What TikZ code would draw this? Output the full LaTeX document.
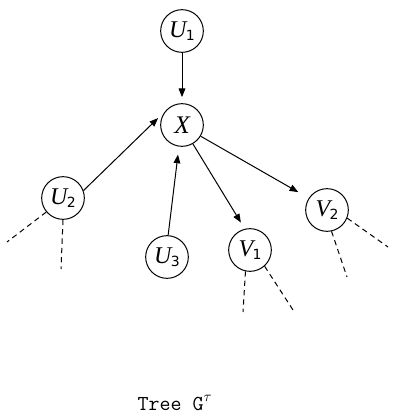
\documentclass[tikz,border=0pt]{standalone}
\usepackage{fontspec}
\setmainfont{Liberation Serif}
\newfontfamily\subfont{DejaVu Sans}
\usetikzlibrary{arrows.meta}
\newcommand\vlab[2]{{\fontsize{18}{18}\selectfont\itshape #1}\kern-0.5pt\raisebox{-2.5pt}{\subfont\fontsize{10.5}{10.5}\selectfont #2}}
\tikzset{
  vnode/.style={circle,draw,line width=0.75pt,minimum size=32pt,inner sep=0pt},
  edge/.style={line width=0.75pt,-{Triangle[length=6.5pt,width=5pt]}},
  dline/.style={line width=0.75pt,dash pattern=on 4pt off 3pt}
}
\begin{document}
\begin{tikzpicture}[x=0.75pt,y=-0.75pt]
\useasboundingbox (0,0) rectangle (393,413);
\node[vnode] (U1) at (182,31) {\vlab{U}{1}};
\node[vnode] (X) at (182,125) {{\fontsize{19}{19}\selectfont\itshape X}};
\node[vnode] (U2) at (63,198) {\vlab{U}{2}};
\node[vnode] (U3) at (167,257) {\vlab{U}{3}};
\node[vnode] (V1) at (250,250) {\vlab{V}{1}};
\node[vnode] (V2) at (327,210) {\vlab{V}{2}};
\draw[edge,shorten >=4.5pt] (U1.south) -- (X.north);
\draw[edge,shorten >=7pt] (U2.20) -- (X.142);
\draw[edge,shorten >=6pt] (U3.87) -- (X.-98);
\draw[edge,shorten >=5.5pt] (X.-60) -- (V1.104);
\draw[edge,shorten >=9pt] (X.-31) -- (V2.147);
\coordinate (a1) at (7,242);
\coordinate (a2) at (61,269);
\coordinate (b1) at (243,312);
\coordinate (b2) at (293,310);
\coordinate (c1) at (347,277);
\coordinate (c2) at (388,247);
\draw[dline] (U2.220) -- (a1);
\draw[dline] (U2.south) -- (a2);
\draw[dline] (V1.258) -- (b1);
\draw[dline] (V1.-48) -- (b2);
\draw[dline] (V2.-78) -- (c1);
\draw[dline] (V2.-22) -- (c2);
\node (cap) at (175,403) {\ttfamily\fontsize{16}{16}\selectfont Tree G\textsuperscript{$\tau$}};
\end{tikzpicture}
\end{document}
